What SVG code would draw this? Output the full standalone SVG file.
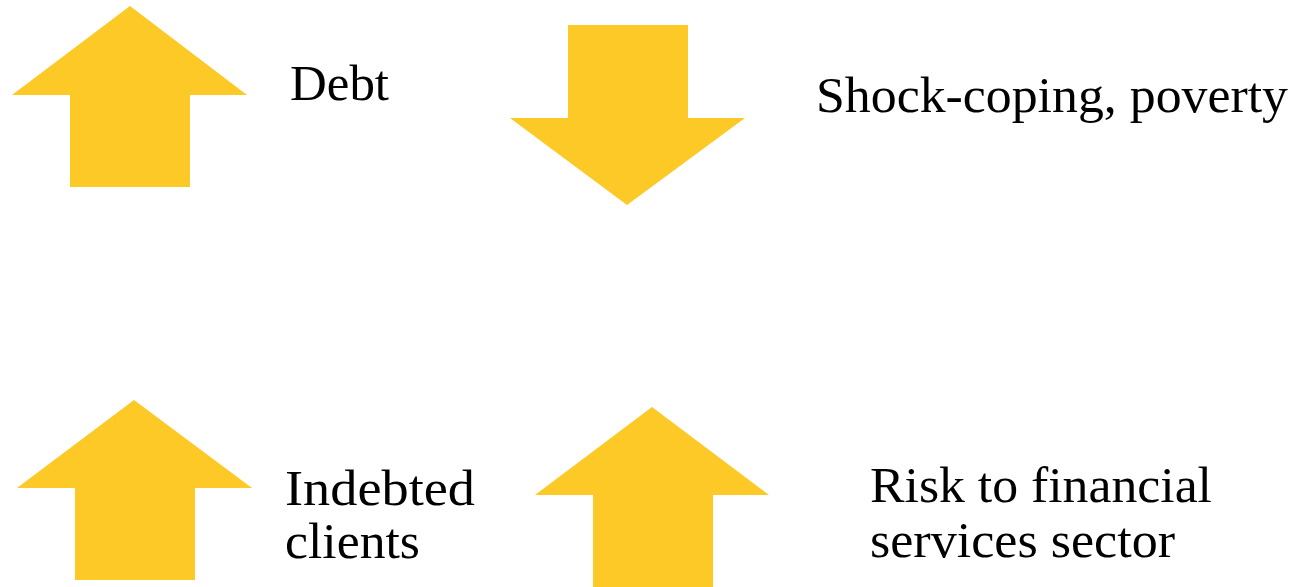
<svg xmlns="http://www.w3.org/2000/svg" width="1295" height="587" viewBox="0 0 1295 587">
  <style>
    .arrow { fill: #FCC926; stroke: none; }
    .label { font-family: "Liberation Serif", "DejaVu Serif", serif; font-size: 50px; fill: #000000; }
  </style>
  <rect x="0" y="0" width="1295" height="587" fill="#FFFFFF"/>

  <!-- Debt: up -->
  <g id="debt">
    <polygon class="arrow" points="130,6 247,95 190,95 190,187 70,187 70,95 12,95"/>
    <text class="label" x="290" y="100" textLength="99" lengthAdjust="spacingAndGlyphs">Debt</text>
  </g>

  <!-- Shock-coping, poverty: down -->
  <g id="shock-coping">
    <polygon class="arrow" points="568,25 688,25 688,118 745,118 627,205 510,118 568,118"/>
    <text class="label" x="816" y="112" textLength="472" lengthAdjust="spacingAndGlyphs">Shock-coping, poverty</text>
  </g>

  <!-- Indebted clients: up -->
  <g id="indebted-clients">
    <polygon class="arrow" points="134,400 252,488 195,488 195,580 75,580 75,488 17,488"/>
    <text class="label" x="285" y="505" textLength="190" lengthAdjust="spacingAndGlyphs">Indebted</text>
    <text class="label" x="285" y="558" textLength="135" lengthAdjust="spacingAndGlyphs">clients</text>
  </g>

  <!-- Risk to financial services sector: up -->
  <g id="financial-risk">
    <polygon class="arrow" points="652,407 769,495 713,495 713,587 593,587 593,495 535,495"/>
    <text class="label" x="870" y="502" textLength="342" lengthAdjust="spacingAndGlyphs">Risk to financial</text>
    <text class="label" x="870" y="557" textLength="305" lengthAdjust="spacingAndGlyphs">services sector</text>
  </g>

  <g id="connectors"/>
</svg>
